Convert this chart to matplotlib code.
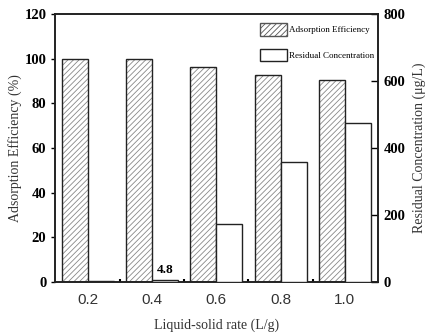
import numpy as np
import matplotlib
matplotlib.use('Agg')
import matplotlib.pyplot as plt
from matplotlib.patches import Patch

# Data
ratio = [0.2, 0.4, 0.6, 0.8, 1.0]
ratio_labels = ['0.2', '0.4', '0.6', '0.8', '1.0']
efficiency = [99.9, 99.8, 96.4, 92.7, 90.5]      # %
residual = [1.5, 4.8, 173, 359, 475]              # ug/L

plt.rcParams['hatch.linewidth'] = 0.6
serif = 'Liberation Serif'

fig = plt.figure(figsize=(4.25, 3.34), dpi=100)
ax = fig.add_axes([0.129, 0.156, 0.76, 0.802])
ax2 = ax.twinx()

w = 0.081
x = np.array(ratio)

# hatched bars: grey hatch, black outline
ax.bar(x - w / 2, efficiency, w, facecolor='white', edgecolor='#888888',
       hatch='//////', linewidth=0, zorder=2)
ax.bar(x - w / 2, efficiency, w, facecolor='none', edgecolor='#222222',
       linewidth=1.0, zorder=3)

ax2.bar(x + w / 2, residual, w, facecolor='white', edgecolor='#222222',
        linewidth=1.0, zorder=3)
ax2.text(x[1] + w / 2, residual[1] + 14, '4.8', ha='center', va='bottom',
         fontsize=9.5, fontweight='bold', family=serif)

ax.set_xlim(0.097, 1.103)
ax.set_ylim(0, 120)
ax2.set_ylim(0, 800)

ax.set_xticks(ratio)
ax.set_xticklabels(ratio_labels, family='Liberation Sans', fontsize=11,
                   color='#333333')
ax.set_xticks((x[:-1] + x[1:]) / 2, minor=True)
ax.tick_params(axis='x', which='major', length=0, pad=8)
ax.tick_params(axis='x', which='minor', direction='in', length=2, width=1.5)

ax.set_yticks([0, 20, 40, 60, 80, 100, 120])
ax.tick_params(axis='y', direction='out', length=3, width=1, pad=3)
ax2.set_yticks([0, 200, 400, 600, 800])
ax2.tick_params(axis='y', direction='in', length=5, width=1, pad=4)

for lab in ax.get_yticklabels() + ax2.get_yticklabels():
    lab.set_family(serif)
    lab.set_fontweight('bold')
    lab.set_fontsize(10.5)

for a in (ax, ax2):
    for s in a.spines.values():
        s.set_linewidth(1.2)
        s.set_color('#222222')

ax.set_xlabel('Liquid-solid rate (L/g)', family=serif, fontsize=10,
              color='#333333', labelpad=8)
ax.set_ylabel('Adsorption Efficiency (%)', family=serif, fontsize=10,
              color='#333333', labelpad=2)
ax2.set_ylabel('Residual Concentration (\u03bcg/L)', family=serif, fontsize=10,
               color='#333333', labelpad=5)

handles = [Patch(facecolor='white', edgecolor='#555555', hatch='//////',
                 linewidth=1.0),
           Patch(facecolor='white', edgecolor='#222222', linewidth=1.0)]
ax2.legend(handles, ['Adsorption Efficiency', 'Residual Concentration'],
           loc='upper right', frameon=False, prop={'family': serif, 'size': 6.5},
           handlelength=3.0, handleheight=1.7, labelspacing=1.5,
           handletextpad=0.2, borderaxespad=0.2, bbox_to_anchor=(1.005, 0.985))

fig.savefig('out.png', dpi=100)
